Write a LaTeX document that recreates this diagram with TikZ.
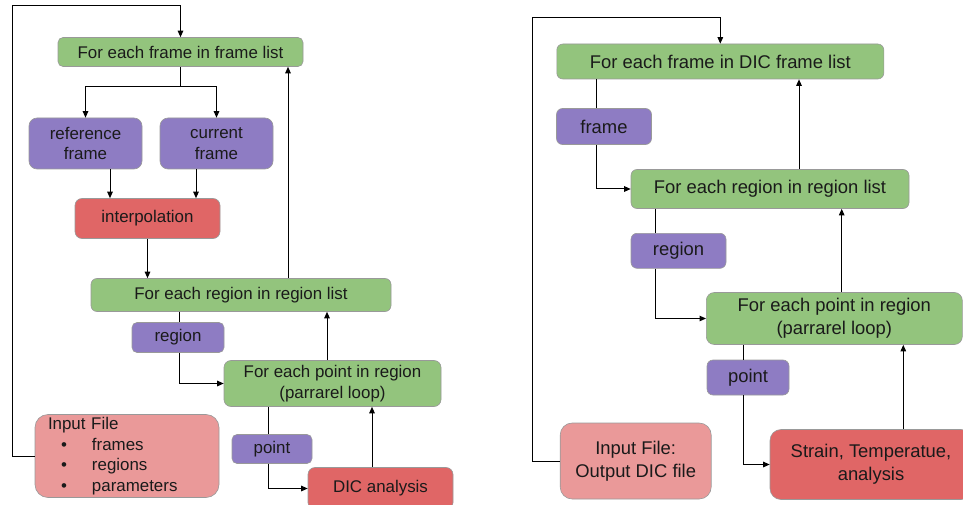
\documentclass[tikz,border=0pt]{standalone}
\usepackage{fontspec}
\setmainfont{Liberation Sans}
\usetikzlibrary{arrows.meta}
\definecolor{gfill}{HTML}{93C47D}
\definecolor{pfill}{HTML}{8E7CC3}
\definecolor{rfill}{HTML}{E06666}
\definecolor{lrfill}{HTML}{EA9999}
\definecolor{txt}{HTML}{1A1A1A}
\newcommand{\bigbul}{\hspace*{13pt}\makebox[31pt][l]{\textbullet}}
\tikzset{
  box/.style={draw=black!40, line width=0.6pt, inner sep=0pt, align=center, text=txt},
  gbox/.style={box, fill=gfill},
  pbox/.style={box, fill=pfill},
  rbox/.style={box, fill=rfill},
  lrbox/.style={box, fill=lrfill},
  lfont/.style={font=\fontsize{16.9}{20.5}\selectfont},
  rfont/.style={font=\fontsize{18.4}{22.6}\selectfont},
  arr/.style={-{Triangle[length=6.5pt,width=5.5pt]}, line width=1pt, draw=black},
  ln/.style={line width=1pt, draw=black}
}
\begin{document}
\begin{tikzpicture}[x=1pt,y=-1pt]
\useasboundingbox (0,0) rectangle (963,505);
\clip (0,0) rectangle (963,505);
\fill[white] (0,0) rectangle (963,505);

% ---------------- left diagram ----------------
\begin{scope}[lfont]
\node[gbox, rounded corners=5pt, minimum width=245pt, minimum height=29pt] (lf) at (180.5,52) {For each frame in frame list};
\node[pbox, rounded corners=8pt, minimum width=113pt, minimum height=51pt] (rf) at (85.5,143.5) {reference\\frame};
\node[pbox, rounded corners=8pt, minimum width=113pt, minimum height=51pt] (cf) at (216.5,143.5) {current\\frame};
\node[rbox, rounded corners=7pt, minimum width=145pt, minimum height=40pt] (ip) at (147.5,218.5) {interpolation};
\node[gbox, rounded corners=6pt, minimum width=300pt, minimum height=33pt] (lr) at (241,295) {For each region in region list};
\node[pbox, rounded corners=5pt, minimum width=92pt, minimum height=30pt] (lrg) at (178,337.5) {region};
\node[gbox, rounded corners=7pt, minimum width=217pt, minimum height=46pt] (lp) at (332.5,383.5) {For each point in region\\(parrarel loop)};
\node[pbox, rounded corners=5pt, minimum width=80pt, minimum height=29pt] (lpt) at (272,449) {point};
\node[rbox, rounded corners=7pt, minimum width=145pt, minimum height=42pt] (dic) at (380.5,488.5) {DIC analysis};
\node[lrbox, rounded corners=13pt, minimum width=184pt, minimum height=83pt, text width=158pt, align=left] (lin) at (127,456)
  {Input File\\\bigbul frames\\\bigbul regions\\\bigbul parameters};
\end{scope}

\coordinate (lc1) at (12,6);
\coordinate (lsplit) at (180.5,87);
\draw[arr] (lin.west) -| (lc1) -| (lf.north);
\draw[ln] (lf.south) -- (lsplit);
\draw[arr] (lsplit) -| (rf.north);
\draw[arr] (lsplit) -| (cf.north);
\draw[arr] ([xshift=24.5pt]rf.south) -- ([xshift=24.5pt]rf.south |- ip.north);
\draw[arr] ([xshift=-20.5pt]cf.south) -- ([xshift=-20.5pt]cf.south |- ip.north);
\draw[arr] (ip.south) -- (ip.south |- lr.north);
\draw[arr] ([xshift=47pt]lr.north) -- ([xshift=47pt]lr.north |- lf.south);
\draw[ln] ([xshift=1pt]lrg.north |- lr.south) -- ([xshift=1pt]lrg.north);
\draw[arr] ([xshift=1pt]lrg.south) |- (lp.west);
\draw[arr] ([xshift=-5.5pt]lp.north) -- ([xshift=-5.5pt]lp.north |- lr.south);
\draw[ln] ([xshift=-4pt]lpt.north |- lp.south) -- ([xshift=-4pt]lpt.north);
\draw[arr] ([xshift=-4pt]lpt.south) |- (dic.west);
\draw[arr] ([xshift=-8.5pt]dic.north) -- ([xshift=-8.5pt]dic.north |- lp.south);

% ---------------- right diagram ----------------
\begin{scope}[rfont]
\node[gbox, rounded corners=6pt, minimum width=327pt, minimum height=35pt] (rfl) at (720.3,61.5) {For each frame in DIC frame list};
\node[pbox, rounded corners=6pt, minimum width=95pt, minimum height=36pt] (rfr) at (604,126.5) {frame};
\node[gbox, rounded corners=6pt, minimum width=278pt, minimum height=39pt] (rrl) at (770,189) {For each region in region list};
\node[pbox, rounded corners=6pt, minimum width=95pt, minimum height=35pt] (rrg) at (678.5,250.8) {region};
\node[gbox, rounded corners=8pt, minimum width=256pt, minimum height=52pt] (rpl) at (834.3,318.5) {For each point in region\\(parrarel loop)};
\node[pbox, rounded corners=6pt, minimum width=82pt, minimum height=35pt] (rpt) at (748,377.5) {point};
\node[rbox, rounded corners=11pt, minimum width=202pt, minimum height=70pt] (sta) at (871,464.5) {Strain, Temperatue,\\analysis};
\node[lrbox, rounded corners=12pt, minimum width=151pt, minimum height=76pt] (rin) at (635.7,461) {Input File:\\Output DIC file};
\end{scope}

\coordinate (rc1) at (532,18);
\draw[arr] (rin.west) -| (rc1) -| (rfl.north);
\draw[ln] ([xshift=-8pt]rfr.north |- rfl.south) -- ([xshift=-8pt]rfr.north);
\draw[arr] ([xshift=-8pt]rfr.south) |- (rrl.west);
\draw[arr] ([xshift=29pt]rrl.north) -- ([xshift=29pt]rrl.north |- rfl.south);
\draw[ln] ([xshift=-22.8pt]rrg.north |- rrl.south) -- ([xshift=-22.8pt]rrg.north);
\draw[arr] ([xshift=-22.8pt]rrg.south) |- (rpl.west);
\draw[arr] ([xshift=7.4pt]rpl.north) -- ([xshift=7.4pt]rpl.north |- rrl.south);
\draw[ln] ([xshift=-4.7pt]rpt.north |- rpl.south) -- ([xshift=-4.7pt]rpt.north);
\draw[arr] ([xshift=-4.7pt]rpt.south) |- (sta.west);
\draw[arr] ([xshift=32.3pt]sta.north) -- ([xshift=32.3pt]sta.north |- rpl.south);
\end{tikzpicture}
\end{document}
